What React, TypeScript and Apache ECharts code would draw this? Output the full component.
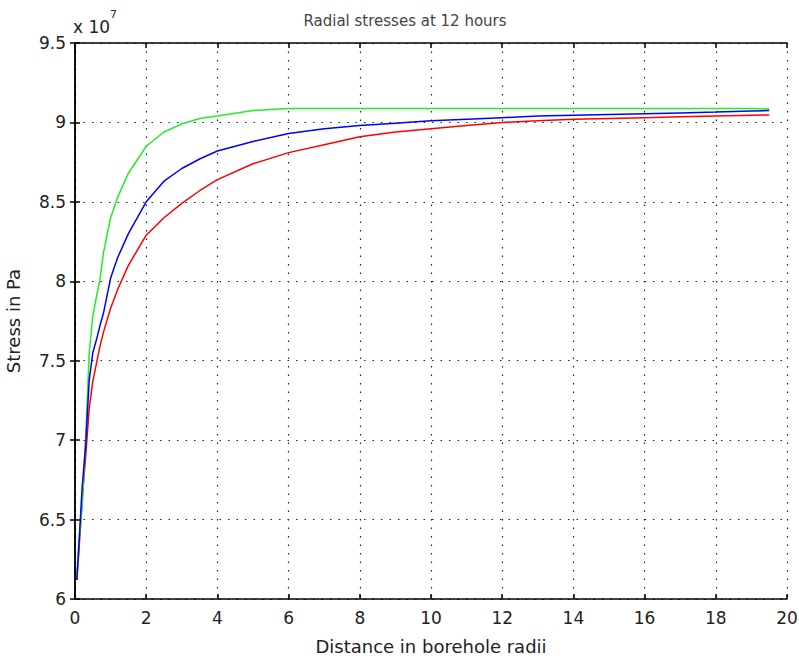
import React, { useEffect, useRef } from "react";
import * as echarts from "echarts";

// Distance in borehole radii (shared sample positions)
const distance = [0.05, 0.1, 0.2, 0.3, 0.4, 0.5, 0.6, 0.7, 0.8, 1.0, 1.2, 1.5, 2, 2.5, 3, 3.5, 4, 5, 6, 7, 8, 9, 10, 11, 12, 13, 14, 15, 16, 17, 18, 19, 19.5];

// Radial stress, in units of 1e7 Pa
const greenStress = [6.13, 6.33, 6.58, 7.02, 7.55, 7.78, 7.9, 8.01, 8.18, 8.4, 8.53, 8.68, 8.85, 8.94, 8.99, 9.025, 9.04, 9.075, 9.088, 9.088, 9.088, 9.088, 9.088, 9.088, 9.088, 9.088, 9.088, 9.088, 9.088, 9.088, 9.088, 9.087, 9.085];
const blueStress = [6.12, 6.3, 6.7, 6.97, 7.38, 7.55, 7.63, 7.72, 7.8, 8.02, 8.15, 8.3, 8.5, 8.63, 8.71, 8.77, 8.82, 8.88, 8.93, 8.96, 8.98, 8.995, 9.01, 9.02, 9.03, 9.04, 9.045, 9.05, 9.055, 9.06, 9.065, 9.072, 9.075];
const redStress = [6.12, 6.27, 6.62, 6.9, 7.2, 7.37, 7.48, 7.59, 7.68, 7.83, 7.95, 8.1, 8.29, 8.4, 8.49, 8.57, 8.64, 8.74, 8.81, 8.86, 8.91, 8.94, 8.96, 8.98, 9.0, 9.01, 9.02, 9.025, 9.03, 9.035, 9.04, 9.045, 9.047];

const xTicks = { min: 0, max: 20, interval: 2 };
const yTicks = { min: 6, max: 9.5, interval: 0.5 };

const titleText = "Radial stresses at 12 hours";
const xName = "Distance in borehole radii";
const yName = "Stress in Pa";

const FONT = "'DejaVu Sans', 'Liberation Sans', sans-serif";

export default function App() {
  const ref = useRef<HTMLDivElement>(null);
  useEffect(() => {
    if (!ref.current) return;
    const chart = echarts.init(ref.current, undefined, { renderer: "svg" });
    const pair = (ys: number[]) => distance.map((x, i) => [x, ys[i]]);
    const lineAxis = { show: true, lineStyle: { color: "#000", width: 1.5 } };
    const tick = { show: true, inside: true, length: 5, lineStyle: { color: "#000", width: 1.5 } };
    const split = { show: true, lineStyle: { color: "#222", type: [1.5, 7] as any, width: 1.2 } };
    chart.setOption({
      animation: false,
      backgroundColor: "#fff",
      title: {
        text: titleText,
        left: 400,
        textAlign: "center",
        top: 8,
        textStyle: { fontFamily: FONT, fontSize: 15, fontWeight: "normal", color: "#444" },
      },
      grid: { left: 75, top: 43, right: 12, bottom: 59, containLabel: false, outerBoundsMode: "none" },
      xAxis: [
        {
          type: "value",
          ...xTicks,
          axisLine: lineAxis,
          axisTick: tick,
          splitLine: split,
          axisLabel: { fontFamily: FONT, fontSize: 17, color: "#222", margin: 10 },
          name: xName,
          nameLocation: "middle",
          nameGap: 38,
          nameTextStyle: { fontFamily: FONT, fontSize: 18, color: "#222" },
        },
        {
          type: "value",
          position: "top",
          ...xTicks,
          axisLine: lineAxis,
          axisTick: tick,
          splitLine: { show: false },
          axisLabel: { show: false },
        },
      ],
      yAxis: [
        {
          type: "value",
          ...yTicks,
          axisLine: lineAxis,
          axisTick: tick,
          splitLine: split,
          axisLabel: { fontFamily: FONT, fontSize: 17, color: "#222", margin: 9 },
          name: yName,
          nameLocation: "middle",
          nameGap: 53,
          nameTextStyle: { fontFamily: FONT, fontSize: 18, color: "#222" },
        },
        {
          type: "value",
          position: "right",
          ...yTicks,
          axisLine: lineAxis,
          axisTick: tick,
          splitLine: { show: false },
          axisLabel: { show: false },
        },
      ],
      graphic: [
        {
          type: "text",
          left: 73,
          top: 9,
          style: {
            text: "{a|x 10}{b|7}",
            rich: {
              a: { fontFamily: FONT, fontSize: 17, fill: "#222", padding: [9, 0, 0, 0] },
              b: { fontFamily: FONT, fontSize: 11, fill: "#222", verticalAlign: "top" },
            },
          },
        },
      ],
      series: [
        { type: "line", data: pair(greenStress), showSymbol: false, lineStyle: { color: "#22ee22", width: 1.5 }, z: 3 },
        { type: "line", data: pair(blueStress), showSymbol: false, lineStyle: { color: "#0000ff", width: 1.5 }, z: 4 },
        { type: "line", data: pair(redStress), showSymbol: false, lineStyle: { color: "#ff0000", width: 1.5 }, z: 2 },
      ],
    });
    return () => chart.dispose();
  }, []);
  return <div ref={ref} style={{ position: "fixed", left: 0, top: 0, width: 799, height: 658 }} />;
}
